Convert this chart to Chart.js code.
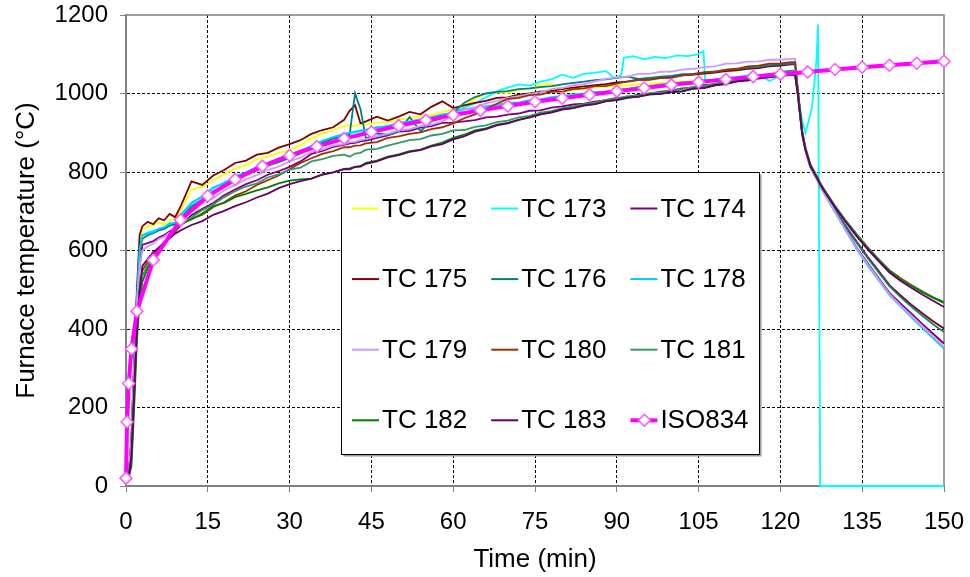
<!DOCTYPE html>
<html>
<head>
<meta charset="utf-8">
<script src="https://cdn.jsdelivr.net/npm/chart.js@4.4.0/dist/chart.umd.min.js"></script>
<style>
  body { margin: 0; background: #fff; }
  canvas { display: block; }
</style>
</head>
<body>
<canvas id="myChart" width="970" height="577"></canvas>
<script>
// shared time axis (min) for the thermocouples
var times = [
  0, 0.5, 1, 1.5, 2, 2.5, 3, 4, 5, 6, 7, 8, 9, 10,
  12, 14, 16, 18, 20, 22, 24, 26, 28, 30, 32, 34, 36, 38, 40,
  41, 42, 43,
  44, 46, 48, 50, 52, 54, 56, 58, 60, 62, 64, 66, 68, 70, 72, 74, 76, 78, 80, 82,
  84, 86, 88, 90, 92, 94, 96, 98, 100, 102, 104, 106, 108, 110, 112, 114, 116, 118, 120, 122,
  122.7, 123.2, 124, 124.6, 125.5, 126.9, 127.3, 128, 130, 132, 134, 136, 138, 140, 142, 144, 146, 148, 150
];

var tc172 = [
  20, 28, 110, 300, 480, 620, 655, 660, 664, 671, 667, 677, 681, 700,
  755, 762, 779, 794, 809, 817, 833, 839, 849, 855, 869, 885, 898, 907, 917,
  919, 917, 922,
  922, 926, 927, 934, 936, 942, 945, 953, 959, 967, 986, 1001, 1003, 1001, 1009, 1012, 1022, 1025, 1004, 1009,
  1012, 1016, 1017, 1021, 1020, 1023, 1024, 1027, 1028, 1031, 1032, 1035, 1036, 1038, 1040, 1042, 1043, 1045, 1046, 1048,
  1050, 998, 895, 855, 812, 776, 764, 747, 700, 652, 606, 566, 528, 490, 462, 436, 410, 386, 358
];

// TC 173 has its own time points (jumps, spike and failure to 0)
var timesTC173 = [
  0, 0.5, 1, 1.5, 2, 2.5, 3, 4, 5, 6, 7, 8, 9, 10,
  12, 14, 16, 18, 20, 24, 28, 32, 36, 40, 44, 48, 52, 56, 60,
  62, 64, 66, 68, 70, 72, 74, 76, 78, 80, 82, 84, 86, 88,
  89.5, 90.8, 91.3, 93, 95, 97, 99, 101, 103, 105, 105.9, 106.2,
  108, 110, 112, 114, 116, 118, 120, 122,
  122.7, 123.2, 124, 124.6, 125.8, 126.6, 126.9, 127.3, 150
];
var tc173 = [
  20, 25, 100, 290, 470, 600, 640, 646, 650, 653, 655, 666, 668, 685,
  718, 736, 758, 774, 786, 810, 832, 852, 880, 896, 906, 918, 928, 940, 952,
  964, 975, 990, 1006, 1015, 1023, 1020, 1030, 1036, 1048, 1040, 1050, 1053, 1057,
  1040, 1046, 1091, 1095, 1087, 1093, 1090, 1097, 1095, 1100, 1108, 1032,
  1036, 1040, 1042, 1046, 1048, 1032, 1046, 1048,
  1045, 1000, 930, 900, 964, 1083, 1176, 0, 0
];

var tc174 = [
  20, 25, 90, 270, 440, 560, 615, 619, 624, 633, 639, 649, 654, 663,
  690, 706, 721, 741, 755, 769, 779, 793, 802, 813, 827, 846, 854, 864, 869,
  873, 874, 878,
  880, 887, 893, 903, 905, 913, 917, 925, 926, 929, 932, 939, 941, 946, 949, 956, 957, 964, 967, 972,
  974, 979, 983, 989, 991, 997, 999, 1005, 1007, 1013, 1015, 1021, 1023, 1029, 1031, 1036, 1038, 1043, 1044, 1048,
  1047, 996, 895, 855, 812, 776, 763, 747, 700, 653, 607, 568, 530, 492, 465, 440, 413, 388, 363
];

var tc175 = [
  20, 30, 130, 330, 500, 640, 662, 673, 667, 682, 677, 693, 685, 712,
  776, 767, 791, 805, 823, 829, 844, 849, 862, 871, 881, 897, 907, 914, 933,
  956, 970, 924,
  929, 941, 931, 941, 953, 947, 966, 980, 963, 970, 976, 981, 989, 990, 997, 1000, 1005, 1007, 1011, 1015,
  1018, 1021, 1024, 1028, 1030, 1035, 1036, 1041, 1042, 1046, 1048, 1051, 1053, 1057, 1059, 1063, 1065, 1069, 1071, 1074,
  1074, 1005, 900, 858, 814, 778, 766, 750, 703, 662, 622, 584, 548, 512, 486, 462, 440, 420, 401
];

var tc176 = [
  20, 28, 115, 310, 480, 600, 630, 639, 644, 651, 655, 663, 667, 681,
  712, 729, 747, 766, 779, 793, 804, 816, 825, 836, 847, 867, 875, 885, 891,
  895, 1000, 960,
  885, 898, 895, 903, 940, 904, 929, 937, 951, 976, 991, 1000, 1004, 1006, 1011, 1013, 1016, 1019, 1023, 1027,
  1030, 1034, 1036, 1040, 1043, 1037, 1040, 1043, 1045, 1049, 1050, 1054, 1056, 1060, 1062, 1066, 1068, 1072, 1074, 1076,
  1076, 1006, 902, 858, 815, 778, 765, 749, 702, 660, 620, 581, 545, 509, 482, 457, 434, 412, 392
];

var tc178 = [
  20, 26, 105, 295, 475, 605, 638, 643, 647, 656, 659, 669, 671, 690,
  722, 738, 761, 771, 789, 799, 813, 823, 835, 843, 855, 866, 879, 889, 898,
  900, 903, 906,
  908, 914, 916, 925, 929, 934, 939, 947, 950, 960, 961, 968, 971, 977, 977, 983, 985, 991, 993, 998,
  1000, 1004, 1005, 1009, 1012, 1017, 1019, 1023, 1025, 1029, 1030, 1034, 1035, 1039, 1040, 1043, 1044, 1048, 1049, 1052,
  1052, 1000, 896, 855, 812, 775, 763, 746, 698, 650, 603, 562, 524, 486, 458, 430, 403, 376, 350
];

var tc179 = [
  20, 27, 110, 300, 460, 560, 600, 611, 617, 629, 635, 646, 651, 666,
  700, 719, 734, 753, 767, 781, 792, 805, 814, 827, 837, 851, 857, 867, 871,
  876, 877, 881,
  884, 891, 897, 906, 909, 917, 921, 929, 944, 959, 965, 975, 981, 989, 993, 999, 1003, 1011, 1014, 1021,
  1024, 1031, 1037, 1041, 1043, 1050, 1050, 1055, 1056, 1061, 1063, 1067, 1069, 1076, 1077, 1081, 1082, 1086, 1086, 1088,
  1088, 1008, 900, 856, 813, 776, 764, 747, 699, 651, 605, 565, 527, 489, 460, 434, 407, 381, 355
];

var tc180 = [
  20, 25, 80, 250, 410, 500, 549, 571, 591, 606, 617, 633, 647, 665,
  681, 691, 711, 723, 740, 751, 767, 779, 791, 807, 823, 835, 846, 853, 863,
  863, 867, 868,
  873, 876, 887, 891, 897, 901, 909, 914, 924, 937, 947, 961, 974, 986, 989, 996, 997, 1004, 1005, 1011,
  1013, 1019, 1019, 1025, 1031, 1035, 1035, 1039, 1040, 1046, 1049, 1054, 1055, 1061, 1063, 1069, 1071, 1076, 1077, 1080,
  1080, 1010, 905, 862, 820, 784, 772, 756, 714, 676, 641, 608, 578, 550, 530, 512, 496, 481, 468
];

var tc181 = [
  20, 24, 70, 230, 390, 490, 535, 563, 584, 601, 617, 636, 651, 669,
  684, 703, 717, 736, 751, 763, 771, 786, 794, 806, 811, 827, 833, 841, 844,
  839, 847, 849,
  857, 859, 867, 874, 881, 884, 893, 897, 906, 907, 915, 919, 927, 931, 939, 943, 951, 955, 963, 967,
  973, 977, 984, 987, 993, 995, 1001, 1003, 1009, 1011, 1017, 1019, 1026, 1029, 1036, 1039, 1046, 1049, 1055, 1058,
  1058, 1005, 900, 860, 818, 782, 771, 755, 713, 675, 640, 606, 577, 548, 528, 511, 495, 480, 466
];

var tc182 = [
  20, 22, 50, 200, 370, 470, 520, 556, 577, 601, 617, 641, 655, 668,
  679, 694, 713, 721, 736, 744, 753, 761, 771, 778, 781, 783, 793, 799, 808,
  809, 813, 815,
  823, 829, 839, 845, 853, 857, 867, 875, 887, 895, 906, 911, 921, 925, 933, 939, 947, 953, 960, 963,
  971, 973, 981, 984, 990, 992, 999, 999, 1003, 1005, 1013, 1015, 1021, 1025, 1031, 1035, 1041, 1043, 1047, 1050,
  1050, 1000, 898, 858, 817, 781, 770, 754, 712, 674, 639, 606, 576, 547, 527, 510, 494, 480, 468
];

var tc183 = [
  20, 24, 75, 240, 400, 500, 560, 579, 596, 607, 621, 631, 643, 651,
  665, 675, 691, 701, 713, 723, 735, 745, 759, 769, 777, 783, 794, 799, 807,
  807, 813, 814,
  821, 827, 837, 843, 851, 856, 865, 871, 883, 891, 903, 909, 919, 924, 933, 939, 947, 951, 959, 963,
  969, 973, 980, 983, 989, 992, 997, 999, 1004, 1006, 1012, 1014, 1021, 1024, 1031, 1033, 1039, 1041, 1046, 1048,
  1048, 998, 896, 857, 815, 780, 768, 752, 710, 672, 636, 603, 573, 544, 523, 505, 488, 472, 456
];

// standard fire curve, read at the marker points
var timesISO = [0, 0.2, 0.5, 1, 2, 5, 10, 15, 20, 25, 30, 35, 40, 45, 50, 55, 60, 65, 70, 75,
  80, 85, 90, 95, 100, 105, 110, 115, 120, 125, 130, 135, 140, 145, 150];
var iso834 = [20, 163, 261, 349, 445, 576, 678, 739, 781, 815, 842, 865, 885, 902, 918, 932, 945, 957, 968, 979,
  988, 997, 1006, 1014, 1022, 1029, 1036, 1043, 1049, 1055, 1061, 1067, 1072, 1077, 1082];

var seriesLabels = ['TC 172', 'TC 173', 'TC 174', 'TC 175', 'TC 176', 'TC 178',
  'TC 179', 'TC 180', 'TC 181', 'TC 182', 'TC 183'];
var seriesColors = ['#FFFF00', '#00FFFF', '#800080', '#800000', '#008080', '#00CCFF',
  '#CC99FF', '#993300', '#339966', '#008000', '#660066'];
var seriesValues = [tc172, tc173, tc174, tc175, tc176, tc178, tc179, tc180, tc181, tc182, tc183];

var xTicks = [0, 15, 30, 45, 60, 75, 90, 105, 120, 135, 150];
var yTicks = [0, 200, 400, 600, 800, 1000, 1200];

function toPoints(xs, ys) {
  return xs.map(function (x, i) { return { x: x, y: ys[i] }; });
}

var datasets = [];
for (var i = 0; i < seriesLabels.length; i++) {
  datasets.push({
    label: seriesLabels[i],
    data: toPoints(i === 1 ? timesTC173 : times, seriesValues[i]),
    borderColor: seriesColors[i],
    borderWidth: 1.8,
    pointRadius: 0,
    tension: 0,
    clip: 4,
    order: 11 - i
  });
}
datasets.push({
  label: 'ISO834',
  data: toPoints(timesISO, iso834),
  borderColor: '#FF00FF',
  borderWidth: 4,
  pointStyle: 'rectRot',
  pointRadius: 6,
  pointBackgroundColor: '#FFFFFF',
  pointBorderColor: '#FF55FF',
  pointBorderWidth: 1.5,
  tension: 0,
  clip: 8,
  order: 0
});

// grey frame on top and right of the plot area
var plotFrame = {
  id: 'plotFrame',
  beforeDatasetsDraw: function (chart) {
    var a = chart.chartArea;
    var ctx = chart.ctx;
    ctx.save();
    ctx.strokeStyle = '#808080';
    ctx.lineWidth = 1.5;
    ctx.beginPath();
    ctx.moveTo(a.left, a.top);
    ctx.lineTo(a.right, a.top);
    ctx.lineTo(a.right, a.bottom);
    ctx.stroke();
    ctx.restore();
  }
};

// legend box inside the plot, 3 columns x 4 rows
var boxLegend = {
  id: 'boxLegend',
  afterDraw: function (chart) {
    var ctx = chart.ctx;
    var left = 341.5, top = 172.5, w = 418, h = 282;
    ctx.save();
    ctx.fillStyle = '#9a9a9a';
    ctx.fillRect(left + 2, top + 2, w, h);
    ctx.fillStyle = '#FFFFFF';
    ctx.fillRect(left, top, w, h);
    ctx.strokeStyle = '#000000';
    ctx.lineWidth = 1;
    ctx.strokeRect(left, top, w, h);
    ctx.font = '26px "Liberation Sans", Arial, sans-serif';
    ctx.textBaseline = 'middle';
    ctx.textAlign = 'left';
    chart.data.datasets.forEach(function (ds, k) {
      var col = k % 3;
      var row = Math.floor(k / 3);
      var x = 352 + col * 139.2;
      var y = 208.5 + row * 70.6;
      ctx.strokeStyle = ds.borderColor;
      ctx.lineWidth = ds.label === 'ISO834' ? 4 : 2;
      ctx.beginPath();
      ctx.moveTo(x, y);
      ctx.lineTo(x + 27, y);
      ctx.stroke();
      if (ds.label === 'ISO834') {
        var cx = x + 14;
        ctx.fillStyle = '#FFFFFF';
        ctx.strokeStyle = ds.pointBorderColor;
        ctx.lineWidth = 1.5;
        ctx.beginPath();
        ctx.moveTo(cx, y - 6);
        ctx.lineTo(cx + 6, y);
        ctx.lineTo(cx, y + 6);
        ctx.lineTo(cx - 6, y);
        ctx.closePath();
        ctx.fill();
        ctx.stroke();
      }
      ctx.fillStyle = '#000000';
      ctx.fillText(ds.label, x + 30, y + 1);
    });
    ctx.restore();
  }
};

Chart.defaults.font.family = '"Liberation Sans", Arial, sans-serif';
Chart.defaults.color = '#000000';

function plainLabel(v) {
  return String(v);
}

var ctx = document.getElementById('myChart').getContext('2d');
var myChart = new Chart(ctx, {
  type: 'line',
  data: { datasets: datasets },
  plugins: [plotFrame, boxLegend],
  options: {
    responsive: false,
    animation: false,
    layout: { padding: { top: 15, right: 26, bottom: 0, left: 0 } },
    plugins: {
      legend: { display: false },
      tooltip: { enabled: false }
    },
    scales: {
      x: {
        type: 'linear',
        min: 0,
        max: 150,
        afterBuildTicks: function (scale) {
          scale.ticks = xTicks.map(function (v) { return { value: v }; });
        },
        afterFit: function (scale) {
          scale.height = 91;
          scale.paddingLeft = 0;
          scale.paddingRight = 0;
        },
        ticks: { font: { size: 24 }, color: '#000', padding: 16, maxRotation: 0, autoSkip: false, callback: plainLabel },
        grid: {
          color: function (c) {
            return (c.tick && (c.tick.value === 0 || c.tick.value === 150)) ? 'rgba(0,0,0,0)' : '#000000';
          },
          lineWidth: 1,
          tickLength: 6,
          tickColor: '#808080',
          tickWidth: 1,
          tickBorderDash: []
        },
        border: { color: '#808080', width: 2, dash: [3, 2] },
        title: { display: true, text: 'Time (min)', font: { size: 26 }, color: '#000', padding: { top: 0, bottom: 2 } }
      },
      y: {
        type: 'linear',
        min: 0,
        max: 1200,
        afterBuildTicks: function (scale) {
          scale.ticks = yTicks.map(function (v) { return { value: v }; });
        },
        afterFit: function (scale) {
          scale.width = 126;
          scale.paddingTop = 0;
          scale.paddingBottom = 0;
        },
        ticks: { font: { size: 24 }, color: '#000', padding: 12, callback: plainLabel },
        grid: {
          color: function (c) {
            return (c.tick && (c.tick.value === 0 || c.tick.value === 1200)) ? 'rgba(0,0,0,0)' : '#000000';
          },
          lineWidth: 1,
          tickLength: 6,
          tickColor: '#808080',
          tickWidth: 1,
          tickBorderDash: []
        },
        border: { color: '#808080', width: 2, dash: [3, 2] },
        title: { display: true, text: 'Furnace temperature (°C)', font: { size: 26 }, color: '#000', padding: { top: 11, bottom: 0 } }
      }
    }
  }
});
</script>
</body>
</html>
